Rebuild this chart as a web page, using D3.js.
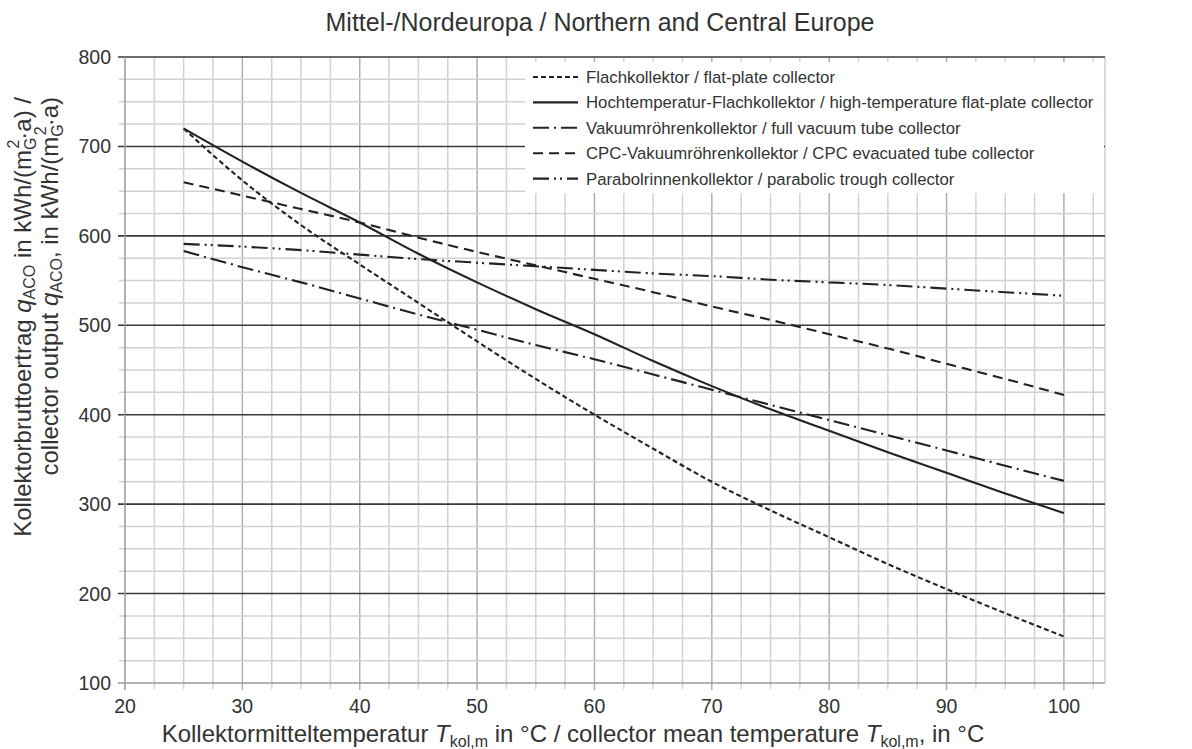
<!DOCTYPE html>
<html>
<head>
<meta charset="utf-8">
<script src="https://cdn.jsdelivr.net/npm/d3@7"></script>
<style>
  body { margin: 0; background: #fff; }
  svg { font-family: "Liberation Sans", Arial, sans-serif; }
</style>
</head>
<body>
<svg id="chart" width="1192" height="749"></svg>
<script>
// data
const temps = [25, 30, 35, 40, 45, 50, 55, 60, 65, 70, 75, 80, 85, 90, 95, 100];
const flachValues = [720, 662, 612, 568, 525, 482, 440, 400, 362, 325, 293, 263, 233, 205, 178, 152];
const hochValues = [720, 683, 648, 615, 580, 548, 518, 490, 460, 432, 406, 382, 358, 335, 312, 290];
const vakuumValues = [583, 565, 548, 530, 512, 495, 478, 462, 445, 428, 411, 394, 377, 360, 343, 326];
const cpcValues = [660, 645, 630, 615, 598, 582, 567, 552, 537, 521, 506, 490, 474, 457, 440, 422];
const parabolValues = [591, 588, 584, 579, 574, 570, 566, 562, 558, 555, 551, 548, 545, 541, 537, 533];

const seriesNames = [
  'Flachkollektor / flat-plate collector',
  'Hochtemperatur-Flachkollektor / high-temperature flat-plate collector',
  'Vakuumröhrenkollektor / full vacuum tube collector',
  'CPC-Vakuumröhrenkollektor / CPC evacuated tube collector',
  'Parabolrinnenkollektor / parabolic trough collector'
];
const seriesDash = ['5,3', null, '16,5,2,5', '10,6', '16,5,2,4,2,5'];
const seriesValues = [flachValues, hochValues, vakuumValues, cpcValues, parabolValues];

const xTicks = [20, 30, 40, 50, 60, 70, 80, 90, 100];
const yTicks = [100, 200, 300, 400, 500, 600, 700, 800];

const svg = d3.select('#chart');
const pLeft = 125, pRight = 1105, pTop = 57, pBottom = 683;

const x = d3.scaleLinear().domain([20, 103.5]).range([pLeft, pRight]);
const y = d3.scaleLinear().domain([100, 800]).range([pBottom, pTop]);

const grid = svg.append('g');

// minor vertical grid every 2.5
const xMinor = d3.range(22.5, 103.5, 2.5).filter(v => v % 10 !== 0);
grid.selectAll('.vx').data(xMinor).enter().append('line')
  .attr('x1', d => x(d)).attr('x2', d => x(d))
  .attr('y1', pTop).attr('y2', pBottom + 6)
  .attr('stroke', '#d2d2d2').attr('stroke-width', 1.5);
grid.selectAll('.vX').data(xTicks.slice(1)).enter().append('line')
  .attr('x1', d => x(d)).attr('x2', d => x(d))
  .attr('y1', pTop).attr('y2', pBottom + 7)
  .attr('stroke', '#b0b0b0').attr('stroke-width', 1.5);

// horizontal minor every 25
const yMinor = d3.range(125, 800, 25).filter(v => v % 100 !== 0);
grid.selectAll('.hy').data(yMinor).enter().append('line')
  .attr('x1', pLeft - 6).attr('x2', pRight)
  .attr('y1', d => y(d)).attr('y2', d => y(d))
  .attr('stroke', '#d2d2d2').attr('stroke-width', 1.5);

// right border
grid.append('line').attr('x1', pRight).attr('x2', pRight).attr('y1', pTop).attr('y2', pBottom)
  .attr('stroke', '#cfcfcf').attr('stroke-width', 1.5);

// major horizontal lines
grid.selectAll('.hY').data(yTicks.filter(v => v > 100)).enter().append('line')
  .attr('x1', pLeft - 7).attr('x2', pRight)
  .attr('y1', d => y(d)).attr('y2', d => y(d))
  .attr('stroke', '#3a3a3a').attr('stroke-width', 1.6);

// axis lines
grid.append('line').attr('x1', pLeft).attr('x2', pLeft).attr('y1', pTop).attr('y2', pBottom + 7)
  .attr('stroke', '#9a9a9a').attr('stroke-width', 1.5);
grid.append('line').attr('x1', pLeft - 7).attr('x2', pRight).attr('y1', pBottom).attr('y2', pBottom)
  .attr('stroke', '#9a9a9a').attr('stroke-width', 1.5);

// tick labels
svg.append('g').selectAll('text').data(yTicks).enter().append('text')
  .attr('x', pLeft - 14).attr('y', d => y(d) + 7)
  .attr('text-anchor', 'end').attr('font-size', 19.5).attr('fill', '#333')
  .text(d => d);
svg.append('g').selectAll('text').data(xTicks).enter().append('text')
  .attr('x', d => x(d)).attr('y', pBottom + 30)
  .attr('text-anchor', 'middle').attr('font-size', 19.5).attr('fill', '#333')
  .text(d => d);

// legend background
const lg = svg.append('g');
lg.append('rect').attr('x', 525).attr('y', pTop + 5).attr('width', pRight - 525 - 1).attr('height', 131)
  .attr('fill', '#fff');

// series lines
const line = d3.line().x(d => x(d[0])).y(d => y(d[1])).curve(d3.curveMonotoneX);
seriesValues.forEach((vals, i) => {
  svg.append('path')
    .datum(temps.map((t, j) => [t, vals[j]]))
    .attr('d', line)
    .attr('fill', 'none').attr('stroke', '#222').attr('stroke-width', 2.1)
    .attr('stroke-dasharray', seriesDash[i]);
});

// legend entries
seriesNames.forEach((name, i) => {
  const ly = 77 + i * 25.4;
  lg.append('line').attr('x1', 533).attr('x2', 578).attr('y1', ly).attr('y2', ly)
    .attr('stroke', '#222').attr('stroke-width', 2.1)
    .attr('stroke-dasharray', seriesDash[i]);
  lg.append('text').attr('x', 586).attr('y', ly + 6)
    .attr('font-size', 16.8).attr('fill', '#333').text(name);
});

// title
svg.append('text').attr('x', 600).attr('y', 31).attr('text-anchor', 'middle')
  .attr('font-size', 25).attr('fill', '#333')
  .text('Mittel-/Nordeuropa / Northern and Central Europe');

// x axis title
const xt = svg.append('text').attr('x', 573).attr('y', 742).attr('text-anchor', 'middle')
  .attr('font-size', 24).attr('fill', '#333');
xt.append('tspan').text('Kollektormitteltemperatur ');
xt.append('tspan').attr('font-style', 'italic').text('T');
xt.append('tspan').attr('font-size', 16).attr('dy', 5).text('kol,m');
xt.append('tspan').attr('dy', -5).text(' in °C / collector mean temperature ');
xt.append('tspan').attr('font-style', 'italic').text('T');
xt.append('tspan').attr('font-size', 16).attr('dy', 5).text('kol,m');
xt.append('tspan').attr('dy', -5).text(', in °C');

// y axis title, two lines
function yTitle(g, parts) {
  parts.forEach(p => {
    const t = g.append('tspan').text(p.t);
    if (p.it) t.attr('font-style', 'italic');
    if (p.fs) t.attr('font-size', p.fs);
    if (p.dy) t.attr('dy', p.dy);
    if (p.dx) t.attr('dx', p.dx);
  });
}
const yt1 = svg.append('text').attr('transform', 'translate(31,97) rotate(-90)')
  .attr('text-anchor', 'end').attr('font-size', 24).attr('fill', '#333');
yTitle(yt1, [
  { t: 'Kollektorbruttoertrag ' }, { t: 'q', it: true },
  { t: 'ACO', fs: 16, dy: 4 }, { t: ' in kWh/(m', dy: -4 },
  { t: 'G', fs: 16, dy: 5 }, { t: '2', fs: 16, dy: -17, dx: -11 },
  { t: '·a) /', dy: 12 }
]);
const yt2 = svg.append('text').attr('transform', 'translate(58,97) rotate(-90)')
  .attr('text-anchor', 'end').attr('font-size', 24).attr('fill', '#333');
yTitle(yt2, [
  { t: 'collector output ' }, { t: 'q', it: true },
  { t: 'ACO', fs: 16, dy: 4 }, { t: ', in kWh/(m', dy: -4 },
  { t: 'G', fs: 16, dy: 5 }, { t: '2', fs: 16, dy: -17, dx: -11 },
  { t: '·a)', dy: 12 }
]);
</script>
</body>
</html>
